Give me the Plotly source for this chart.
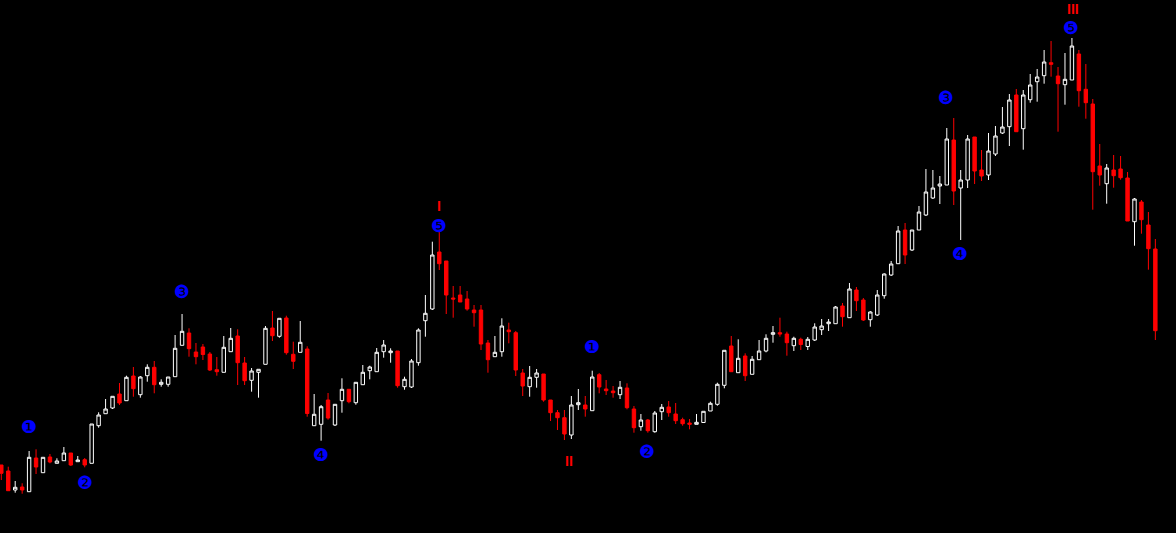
import plotly.graph_objects as go

# candle index (bar number)
bar = list(range(167))

open_ = [68, 62, 43, 46, 41.3, 75, 60.3, 76, 69.7, 72.3, 80, 71.3, 73.3, 69.7, 107.3, 119.3, 125, 139, 132.3, 157,
         138.3, 157.3, 165.7, 148.7, 148.7, 156.3, 187.7, 200, 181, 186, 179, 163.3, 160.7, 181.3, 197, 170, 152.7, 160.7, 168.7, 205,
         196.7, 215, 178.7, 180.7, 184, 107.3, 108.7, 133, 108, 132.3, 143.7, 130.3, 148.3, 162.3, 161.3, 181.3, 180.3, 182, 146.3, 146,
         170.3, 212.3, 224, 281, 272, 235, 238, 234, 223, 223, 190, 176.3, 181.3, 203, 200.3, 160, 146.3, 155.7, 159, 133,
         120.3, 115.3, 98, 128.3, 128, 122.3, 158.3, 144, 142, 138.3, 145, 124, 106.3, 113, 101.3, 121.3, 126, 119, 113.3, 110,
         108.7, 110.5, 122, 128.7, 147.7, 187, 160.3, 177, 158.7, 173.3, 182, 198.7, 200.3, 199, 187.3, 193.7, 186.5, 193, 203.3, 209.3,
         209.3, 227, 215.3, 243, 233, 213.3, 218, 237.3, 258, 269.3, 303, 283, 303, 318, 335, 347, 348, 393, 345, 353,
         396, 363, 358, 379, 400, 406.3, 438, 404.3, 433.3, 451.3, 457.3, 470.3, 457, 448.3, 453, 479, 443.7, 429, 367, 349.3,
         363, 364, 355, 311.3, 331, 308, 284]
high = [68, 66.3, 52, 49.7, 82, 83.7, 75.7, 79, 74.7, 86, 80, 77, 75, 109, 120.7, 134, 136.7, 150, 157.3, 166,
        157, 168.7, 172, 153.7, 156, 198, 219, 204.7, 190, 189, 181, 176, 197, 205, 203.7, 176, 165, 163.7, 207, 222,
        214.7, 217.3, 191.3, 212, 186.7, 139, 128, 140, 128.7, 154.7, 143.7, 150.7, 168, 167.3, 185, 193, 184.7, 182, 156.3, 174,
        204.7, 238, 291.3, 301.3, 272, 247, 247, 242, 228, 228, 193, 197, 214.7, 210.3, 202, 164, 167, 164, 159, 133,
        123, 123, 137, 144, 137, 162.3, 160, 153, 147, 152, 149.7, 127, 119, 114, 122, 129, 132, 130, 115.3, 114,
        119, 121.7, 131.3, 150.3, 182.7, 197, 193.7, 179.7, 177, 193, 198.7, 207, 215.3, 201.3, 196.3, 195.3, 196, 209.7, 214, 214,
        227, 230, 250, 246, 235, 222, 243, 259.7, 272, 307, 310, 303, 327, 364, 363, 357, 405, 415, 363, 398,
        396, 383, 400, 407, 426, 439, 444, 443, 459, 464, 483, 492, 466, 480, 495, 483, 469, 434, 389, 369,
        378, 377, 361, 335, 333, 321, 294]
low = [53, 42.3, 40.3, 39.3, 41.3, 59, 60.3, 69.7, 69.7, 72.3, 67, 71.3, 65.7, 69.7, 105.3, 119.3, 124, 128, 132.3, 136.3,
       135.3, 151.3, 139.7, 146.3, 146.3, 156.3, 187.7, 176.3, 168.7, 173, 162, 157.3, 160.7, 181.3, 148, 148, 141.3, 135.3, 168.7, 192,
       195.3, 178.3, 164, 180.7, 116.3, 107.3, 92.3, 113.3, 107, 120.3, 129.7, 128.3, 148.3, 153.7, 161.3, 175.3, 170.3, 145.3, 143.3, 145,
       167.3, 196.3, 223, 263, 219, 215.3, 231, 222.3, 206.3, 183, 160.3, 176.3, 176.3, 189.7, 157, 137, 136.3, 145.3, 131.3, 112,
       103, 93, 94, 123, 116.3, 122.3, 139.7, 138, 135.3, 134, 123.7, 100.3, 102.3, 100.3, 100.3, 113, 116.3, 109, 107.3, 103.7,
       108.7, 110.5, 122, 127.3, 144.7, 161.3, 160.3, 152, 158.7, 173.3, 180.7, 190.3, 196.3, 177.3, 182, 183, 183, 192, 198, 202,
       209.3, 206.3, 215.3, 222, 212, 206.3, 217, 234.3, 257, 269.3, 269, 282, 303, 317, 334, 329, 348, 328, 293, 345,
       349, 352, 353, 377, 399, 387, 401.3, 383.3, 430.3, 431.3, 449.3, 456.3, 401.3, 428.3, 453, 426.3, 414.3, 323.3, 347.3, 329.3,
       345.3, 353.3, 312, 287.3, 299.3, 263.3, 193]
close = [59.7, 42.3, 45.7, 43, 75.7, 66, 75.7, 71, 72, 80, 68, 73, 68, 109, 118, 124, 136.7, 130, 155.7, 144.3,
         156, 165.7, 148.3, 150.7, 156, 184.7, 201.7, 184.3, 176.3, 178.5, 163, 161.3, 185.7, 194.7, 170.3, 152.3, 162, 163.7, 204.7, 197.3,
         214.7, 180.3, 171.7, 190.7, 119.5, 118.7, 126.3, 115, 128.7, 143.7, 131.3, 150.7, 160.7, 166, 180.7, 188, 182, 147.3, 153.7, 172,
         203, 219.7, 278, 269.3, 238, 234, 231, 224, 220.3, 189, 173.3, 180.7, 207, 201.3, 163, 147, 155.7, 160, 133, 120.3,
         115.3, 99, 128, 130.3, 124, 156, 146, 142.3, 140.3, 145.7, 125.3, 105.3, 113, 102.3, 120, 125.7, 120.3, 112.3, 109.3, 108.7,
         110.7, 121.7, 129.7, 148.7, 182.7, 161.3, 174.7, 157.3, 173.7, 182, 194.7, 200.3, 199, 190.3, 194.7, 188.5, 193.7, 206, 207, 211,
         226, 216.3, 244, 232.3, 213, 221, 238, 259, 269, 302, 278, 303, 321, 341, 345, 349, 394, 342, 353, 394,
         362, 357, 382, 397, 406, 433, 401.3, 438, 448, 456, 471, 468.7, 449.3, 453.7, 487, 442.3, 430.3, 361.3, 358, 365,
         357.3, 355.3, 312, 334, 313.3, 284.3, 202.3]

# wave-count labels: text, bar number, price level
wave_text = ["❶", "❷", "❸", "❹", "❺", "❶", "❷", "❸", "❹", "❺"]
wave_bar = [4.0, 12.0, 26.0, 46.0, 63.0, 85.0, 92.9, 135.9, 137.9, 153.9]
wave_price = [106.3, 51, 241.5, 79, 308, 187, 81.3, 436, 279.3, 506]

degree_text = ["I", "II", "III"]
degree_bar = [62.9, 81.6, 154.1]
degree_price = [327, 72, 533]
degree_anchor = ["middle", "middle", "top"]

fig = go.Figure(go.Candlestick(
    x=bar, open=open_, high=high, low=low, close=close,
    increasing=dict(line=dict(color="#FFFFFF", width=1), fillcolor="#000000"),
    decreasing=dict(line=dict(color="#FF0000", width=1), fillcolor="#FF0000"),
    whiskerwidth=0,
    hoverinfo="skip",
))

for t, xb, yp in zip(wave_text, wave_bar, wave_price):
    fig.add_annotation(x=xb, y=yp, text=t, showarrow=False,
                       font=dict(family="DejaVu Sans", size=18, color="#0000FF"),
                       xanchor="center", yanchor="middle", borderpad=0)
for t, xb, yp, ya in zip(degree_text, degree_bar, degree_price, degree_anchor):
    fig.add_annotation(x=xb, y=yp, text="<b>" + t + "</b>", showarrow=False,
                       font=dict(family="Liberation Sans", size=14, color="#FF0000"),
                       xanchor="center", yanchor=ya, borderpad=0)

fig.update_layout(
    width=1176, height=533,
    margin=dict(l=0, r=0, t=0, b=0, pad=0),
    paper_bgcolor="#000000", plot_bgcolor="#000000",
    showlegend=False,
    boxgap=0.3,
    xaxis=dict(range=[-0.187, 168.97], visible=False, rangeslider=dict(visible=False),
               showgrid=False, zeroline=False, fixedrange=True),
    yaxis=dict(range=[0, 533], visible=False, showgrid=False, zeroline=False, fixedrange=True),
)

fig.write_html("out.html", config={"displayModeBar": False, "staticPlot": True},
               post_script="document.body.style.margin='0';document.body.style.overflow='hidden';")
